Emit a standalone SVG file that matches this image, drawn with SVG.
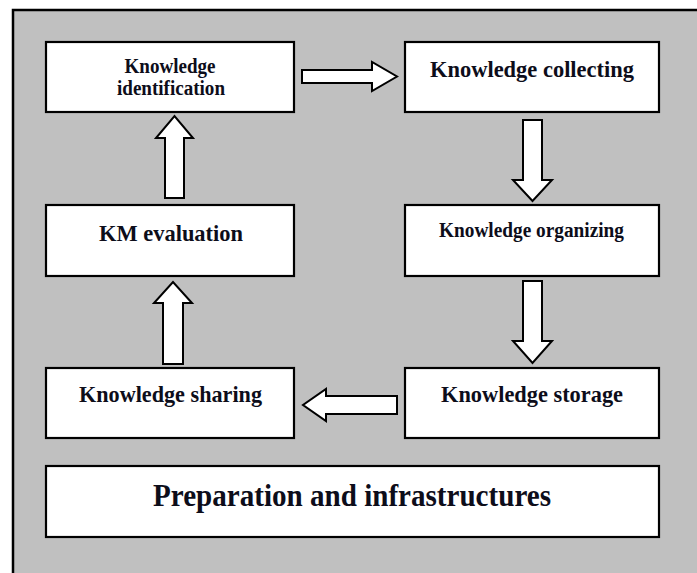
<svg xmlns="http://www.w3.org/2000/svg" width="697" height="573" viewBox="0 0 697 573">
  <style>
    .frame { fill: #c0c0c0; stroke: #000; stroke-width: 2.5; }
    .box { fill: #fff; stroke: #000; stroke-width: 2.2; }
    .arrow { fill: #fff; stroke: #000; stroke-width: 2; stroke-linejoin: miter; }
    .lbl { font-family: "Liberation Serif", "Times New Roman", serif; font-weight: bold; fill: #0d0d1a; text-anchor: middle; }
  </style>
  <rect width="697" height="573" fill="#fff"/>
  <!-- outer panel, open on the right and bottom edges -->
  <rect class="frame" x="13" y="10" width="700" height="580"/>

  <g id="connectors">
    <!-- identification -> collecting -->
    <polygon class="arrow" points="302,70 372,70 372,62 397,76.5 372,91 372,83 302,83"/>
    <!-- collecting -> organizing -->
    <polygon class="arrow" points="523,120 542,120 542,180 552,180 532.5,201 513,180 523,180"/>
    <!-- organizing -> storage -->
    <polygon class="arrow" points="523,281 542,281 542,341 552,341 532.5,363 513,341 523,341"/>
    <!-- storage -> sharing -->
    <polygon class="arrow" points="397,396 326,396 326,389 303,405 326,421 326,414 397,414"/>
    <!-- sharing -> evaluation -->
    <polygon class="arrow" points="163,364 183,364 183,303 192,303 173,282 154,303 163,303"/>
    <!-- evaluation -> identification -->
    <polygon class="arrow" points="165,198 184,198 184,138 193,138 174.5,116 156,138 165,138"/>
  </g>

  <g id="node-identification">
    <rect class="box" x="46" y="42" width="248" height="70"/>
    <text class="lbl" x="170" y="73" font-size="20" textLength="91" lengthAdjust="spacingAndGlyphs">Knowledge</text>
    <text class="lbl" x="171" y="95" font-size="20" textLength="108" lengthAdjust="spacingAndGlyphs">identification</text>
  </g>

  <g id="node-collecting">
    <rect class="box" x="405" y="42" width="254" height="70"/>
    <text class="lbl" x="532" y="77" font-size="23.5" textLength="204" lengthAdjust="spacingAndGlyphs">Knowledge collecting</text>
  </g>

  <g id="node-evaluation">
    <rect class="box" x="46" y="205" width="248" height="71"/>
    <text class="lbl" x="171" y="241" font-size="23.5" textLength="144" lengthAdjust="spacingAndGlyphs">KM evaluation</text>
  </g>

  <g id="node-organizing">
    <rect class="box" x="405" y="205" width="254" height="71"/>
    <text class="lbl" x="531.5" y="237" font-size="20.5" textLength="185" lengthAdjust="spacingAndGlyphs">Knowledge organizing</text>
  </g>

  <g id="node-sharing">
    <rect class="box" x="46" y="368" width="248" height="70"/>
    <text class="lbl" x="170.5" y="402" font-size="23.5" textLength="183" lengthAdjust="spacingAndGlyphs">Knowledge sharing</text>
  </g>

  <g id="node-storage">
    <rect class="box" x="405" y="368" width="254" height="70"/>
    <text class="lbl" x="532" y="402" font-size="23.5" textLength="182" lengthAdjust="spacingAndGlyphs">Knowledge storage</text>
  </g>

  <g id="node-preparation">
    <rect class="box" x="46" y="466" width="613" height="71"/>
    <text class="lbl" x="352" y="506" font-size="31" textLength="398" lengthAdjust="spacingAndGlyphs">Preparation and infrastructures</text>
  </g>
</svg>
